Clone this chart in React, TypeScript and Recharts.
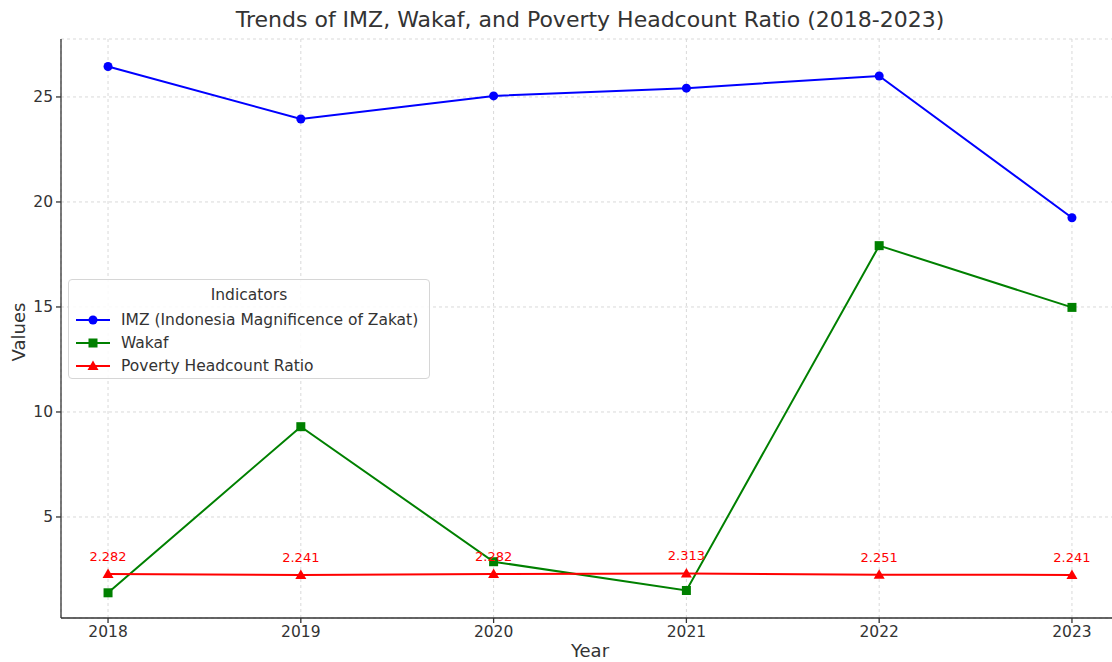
import React from 'react';
import {
  LineChart,
  Line,
  XAxis,
  YAxis,
  CartesianGrid,
  Legend,
  LabelList,
} from 'recharts';

const years = [2018, 2019, 2020, 2021, 2022, 2023];
const imz = [26.45, 23.95, 25.05, 25.42, 26.0, 19.25];
const wakaf = [1.39, 9.3, 2.87, 1.5, 17.92, 14.98];
const poverty = [2.282, 2.241, 2.282, 2.313, 2.251, 2.241];
const yTicks = [5, 10, 15, 20, 25];

const FONT = '"DejaVu Sans", sans-serif';
const INK = '#333333';

const data = years.map((y, i) => ({
  year: y,
  imz: imz[i],
  wakaf: wakaf[i],
  poverty: poverty[i],
}));

const CircleDot = (p: any) => (
  <circle key={`c${p.index}`} cx={p.cx} cy={p.cy} r={4.5} fill="#0000ff" />
);
const SquareDot = (p: any) => (
  <rect key={`s${p.index}`} x={p.cx - 4.5} y={p.cy - 4.5} width={9} height={9} fill="#008000" />
);
const TriangleDot = (p: any) => (
  <polygon
    key={`t${p.index}`}
    points={`${p.cx},${p.cy - 5.5} ${p.cx - 5.5},${p.cy + 4} ${p.cx + 5.5},${p.cy + 4}`}
    fill="#ff0000"
  />
);

const legendItems = [
  { label: 'IMZ (Indonesia Magnificence of Zakat)', color: '#0000ff', shape: 'circle' },
  { label: 'Wakaf', color: '#008000', shape: 'square' },
  { label: 'Poverty Headcount Ratio', color: '#ff0000', shape: 'triangle' },
];

const LegendBox = () => (
  <div
    style={{
      border: '1px solid #d6d6d6',
      borderRadius: 4,
      background: 'rgba(255,255,255,0.85)',
      fontFamily: FONT,
      fontSize: 15.5,
      color: INK,
      padding: '3px 6px 4px 6px',
      boxSizing: 'border-box',
      width: 362,
      height: 100,
    }}
  >
    <div style={{ textAlign: 'center', lineHeight: '24px', marginBottom: 1 }}>Indicators</div>
    {legendItems.map((it) => (
      <div key={it.label} style={{ display: 'flex', alignItems: 'center', height: 23, whiteSpace: 'nowrap' }}>
        <svg width={36} height={12} style={{ marginRight: 10, flex: 'none' }}>
          <line x1={1} y1={6} x2={35} y2={6} stroke={it.color} strokeWidth={2} />
          {it.shape === 'circle' && <circle cx={18} cy={6} r={4.5} fill={it.color} />}
          {it.shape === 'square' && <rect x={13.5} y={1.5} width={9} height={9} fill={it.color} />}
          {it.shape === 'triangle' && <polygon points="18,0.5 12.5,10 23.5,10" fill={it.color} />}
        </svg>
        <span>{it.label}</span>
      </div>
    ))}
  </div>
);

const YLabel = () => (
  <text
    x={18}
    y={332}
    transform="rotate(-90 18 332)"
    textAnchor="middle"
    dominantBaseline="central"
    fill={INK}
    fontSize={18}
    fontFamily={FONT}
  >
    Values
  </text>
);

const XLabel = () => (
  <text x={590} y={657} textAnchor="middle" fill={INK} fontSize={18} fontFamily={FONT}>
    Year
  </text>
);

export default function App() {
  return (
    <div
      style={{
        position: 'absolute',
        left: 0,
        top: 0,
        width: 1112,
        height: 662,
        overflow: 'hidden',
        background: '#fff',
        fontFamily: FONT,
      }}
    >
      <div
        style={{
          position: 'absolute',
          left: 0,
          width: 1180,
          top: 7,
          textAlign: 'center',
          fontSize: 22,
          color: INK,
        }}
      >
        Trends of IMZ, Wakaf, and Poverty Headcount Ratio (2018-2023)
      </div>
      <LineChart
        width={1130}
        height={662}
        data={data}
        margin={{ top: 39, right: 11, left: 0, bottom: 0 }}
        style={{ position: 'absolute', left: 0, top: 0 }}
      >
        <CartesianGrid stroke="#d9d9d9" strokeDasharray="3 3" />
        <XAxis
          dataKey="year"
          type="number"
          domain={[2017.756, 2023.244]}
          ticks={years}
          allowDataOverflow
          height={44}
          stroke={INK}
          strokeWidth={1.3}
          tickSize={5}
          tickMargin={3}
          tick={{ fill: INK, fontSize: 15.5, fontFamily: FONT }}
          label={<XLabel />}
        />
        <YAxis
          type="number"
          domain={[0.19, 27.76]}
          ticks={yTicks}
          allowDataOverflow
          width={61}
          stroke={INK}
          strokeWidth={1.3}
          tickSize={5}
          tickMargin={3}
          tick={{ fill: INK, fontSize: 15.5, fontFamily: FONT }}
          label={<YLabel />}
        />
        <Legend
          layout="vertical"
          align="center"
          verticalAlign="middle"
          content={<LegendBox />}
          wrapperStyle={{ left: 68, top: 279, width: 362 }}
        />
        <Line
          dataKey="imz"
          stroke="#0000ff"
          strokeWidth={2}
          dot={CircleDot}
          activeDot={false}
          isAnimationActive={false}
        />
        <Line
          dataKey="wakaf"
          stroke="#008000"
          strokeWidth={2}
          dot={SquareDot}
          activeDot={false}
          isAnimationActive={false}
        />
        <Line
          dataKey="poverty"
          stroke="#ff0000"
          strokeWidth={2}
          dot={TriangleDot}
          activeDot={false}
          isAnimationActive={false}
        >
          <LabelList
            dataKey="poverty"
            position="top"
            offset={13}
            fill="#ff0000"
            fontSize={13}
            fontFamily={FONT}
            formatter={(v: any) => Number(v).toFixed(3)}
          />
        </Line>
      </LineChart>
    </div>
  );
}
